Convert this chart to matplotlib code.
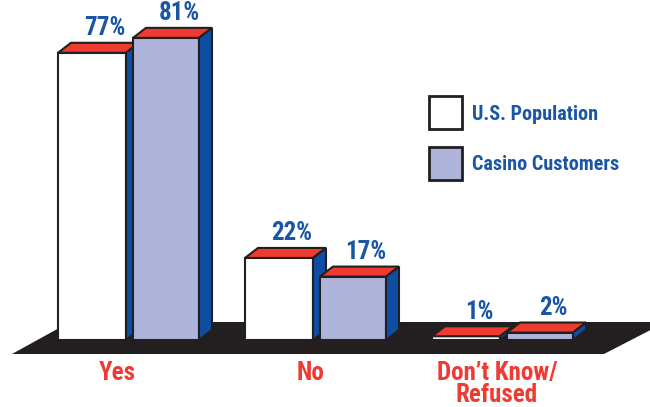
import matplotlib
matplotlib.use('Agg')
import matplotlib.pyplot as plt
from matplotlib.patches import Polygon, Rectangle

categories = ['Yes', 'No', 'Don\u2019t Know/\nRefused']
series = ['U.S. Population', 'Casino Customers']
us_population = [77, 22, 1]
casino_customers = [81, 17, 2]

front_colors = ['#FFFFFF', '#AEB4DA']
top_color = '#EE3B2F'
side_color = '#0D4EA2'
floor_color = '#231F20'
value_color = '#1A55A6'
cat_color = '#EE3B33'

FONT = ['Roboto Condensed', 'DejaVu Sans']

# y axis is in percent, x axis in pixels
PX_PER_PCT = 3.73
BASE_PX = 340


def py(y_px):
    return (BASE_PX - y_px) / PX_PER_PCT


DX = 13               # depth offset (px)
DY = 10 / PX_PER_PCT  # depth offset (percent units)
GROUP_STEP = 187
FIRST_LEFT = 58
BAR_W = [68, 66]
SERIES_SHIFT = [0, 75]
LABEL_SHIFT = [59, 66, 65]

fig = plt.figure(figsize=(6.5, 4.07), dpi=100)
ax = fig.add_axes([0, 0, 1, 1])
ax.set_xlim(0, 650)
ax.set_ylim(py(407), py(0))
ax.axis('off')

# floor
floor = Polygon([(12, py(354)), (70, py(322)), (666, py(322)), (604, py(354))],
                closed=True, facecolor=floor_color, edgecolor='none', zorder=1)
ax.add_patch(floor)


def draw_bar(left, width, value, face):
    right = left + width
    kw = dict(edgecolor='#231F20', linewidth=1.5, joinstyle='miter', zorder=2)
    ax.add_patch(Rectangle((left, 0), width, value, facecolor=face, **kw))
    ax.add_patch(Polygon([(left, value), (left + DX, value + DY),
                          (right + DX, value + DY), (right, value)],
                         closed=True, facecolor=top_color, **kw))
    ax.add_patch(Polygon([(right, 0), (right, value), (right + DX, value + DY),
                          (right + DX, DY)],
                         closed=True, facecolor=side_color, **kw))
    ax.text(left + width / 2 + DX, value + DY + 2.0, f'{value}%',
            ha='center', va='baseline', color=value_color,
            fontsize=18, fontweight='bold', family=FONT, zorder=3)


for i, cat in enumerate(categories):
    base = FIRST_LEFT + i * GROUP_STEP
    for s, vals in enumerate([us_population, casino_customers]):
        draw_bar(base + SERIES_SHIFT[s], BAR_W[s], vals[i], front_colors[s])
    ax.text(base + LABEL_SHIFT[i], py(361), cat, ha='center', va='top',
            color=cat_color, fontsize=18, fontweight='bold', family=FONT,
            linespacing=0.9)

# legend
for s, name in enumerate(series):
    top = 96 + s * 51
    ax.add_patch(Rectangle((429, py(top + 33)), 33, 33 / PX_PER_PCT,
                           facecolor=front_colors[s], edgecolor='#231F20',
                           linewidth=2, zorder=2))
    ax.text(472, py(top + 18), name, ha='left', va='center', color=value_color,
            fontsize=14.5, fontweight='bold', family=FONT)

fig.savefig('out.png', dpi=100)
